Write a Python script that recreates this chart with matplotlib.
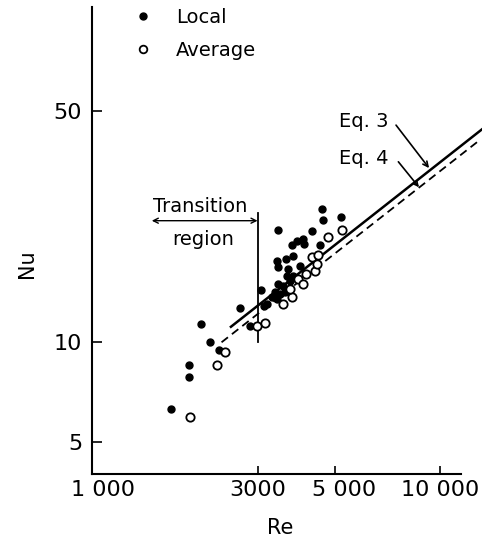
import numpy as np
import matplotlib
matplotlib.use('Agg')
import matplotlib.pyplot as plt
import matplotlib.transforms as mtransforms
from matplotlib.lines import Line2D
from matplotlib.ticker import NullLocator

# local Nusselt numbers (filled dots)
re_local = [1687, 1906, 1906, 2063, 2183, 2322, 2663, 2836, 3059, 3110,
            3423, 3394, 3418, 3874, 4048, 4075, 4279, 4589, 4597, 5194,
            4520, 3749, 3665, 3781, 3610, 3960, 3627, 3707, 3788, 3430,
            3546, 3356, 3469, 3586, 3284, 3394, 3177]
nu_local = [6.27, 8.52, 7.87, 11.35, 10.0, 9.49, 12.72, 11.18, 14.43, 12.85,
            21.77, 17.66, 16.86, 20.3, 20.55, 19.85, 21.62, 25.2, 23.34, 23.89,
            19.61, 19.61, 16.67, 18.29, 17.91, 17.05, 15.91, 15.36, 15.91, 15.01,
            14.83, 14.15, 14.0, 14.15, 13.67, 13.52, 13.05]

# average Nusselt numbers (open circles)
re_avg = [1912, 2282, 2403, 2973, 3142, 3532, 3749, 3707, 3915, 4048,
          4121, 4358, 4423, 4279, 4470, 4757, 5239]
nu_avg = [5.93, 8.55, 9.33, 11.22, 11.43, 13.08, 13.68, 14.53, 15.57, 15.04,
          16.13, 16.47, 17.29, 18.07, 18.41, 20.78, 21.77]

# correlations
re_eq3 = [2507, 13180]
nu_eq3 = [11.14, 43.95]
re_eq4 = [2356, 12990]
nu_eq4 = [10.0, 40.8]

xticks = [1000, 3000, 5000, 10000]
xtick_labels = ['1 000', '3000', '5 000', '10 000']
yticks = [5, 10, 50]
ytick_labels = ['5', '10', '50']

fig = plt.figure(figsize=(4.86, 5.41), dpi=100)
ax = fig.add_axes([0.1893, 0.1238, 0.8025, 0.8632])
ax.set_xscale('log')
ax.set_yscale('log')
ax.set_xlim(1000, 13200)
ax.set_ylim(4.0, 103)

# lines
ax.plot(re_eq3, nu_eq3, color='black', lw=1.8, zorder=2)
ax.plot(re_eq4, nu_eq4, color='black', lw=1.3, dashes=(4.5, 2.8), zorder=2)

# data
ax.plot(re_local, nu_local, 'o', color='black', ms=5, zorder=3)
ax.plot(re_avg, nu_avg, 'o', mfc='white', mec='black', ms=6, mew=1.3, zorder=4)

# transition region
ax.plot([3000, 3000], [10, 24.5], color='black', lw=1.3)
ax.annotate('', xy=(1485, 23.3), xytext=(2990, 23.3),
            arrowprops=dict(arrowstyle='<->', lw=1.0, color='black',
                            shrinkA=0, shrinkB=0, mutation_scale=9))
ax.text(2044, 24.74, 'Transition', ha='center', va='baseline', fontsize=14)
ax.text(2084, 19.61, 'region', ha='center', va='baseline', fontsize=14)

# equation labels
ax.text(6046, 44.76, 'Eq. 3', ha='center', va='baseline', fontsize=14)
ax.text(6046, 34.67, 'Eq. 4', ha='center', va='baseline', fontsize=14)
ax.annotate('', xy=(9299, 33.6), xytext=(7474, 45.3),
            arrowprops=dict(arrowstyle='->', lw=1.2, color='black',
                            shrinkA=0, shrinkB=0, mutation_scale=9))
ax.annotate('', xy=(8700, 29.4), xytext=(7590, 35.1),
            arrowprops=dict(arrowstyle='->', lw=1.2, color='black',
                            shrinkA=0, shrinkB=0, mutation_scale=7))

# axes styling
for s in ['top', 'right']:
    ax.spines[s].set_visible(False)
ax.spines['left'].set_linewidth(1.5)
ax.spines['bottom'].set_linewidth(1.5)
ax.spines['bottom'].set_bounds(1000, 11470)

ax.set_xticks(xticks)
ax.set_xticklabels(xtick_labels)
ax.set_yticks(yticks)
ax.set_yticklabels(ytick_labels)
ax.xaxis.set_minor_locator(NullLocator())
ax.yaxis.set_minor_locator(NullLocator())
ax.tick_params(axis='x', direction='in', length=6, width=1.2, labelsize=16, pad=4)
ax.tick_params(axis='y', direction='in', length=7, width=1.2, labelsize=16, pad=7)

# nudge a couple of x labels like the original
for lab, dx in zip(ax.get_xticklabels(), [11, 0, 9, 0]):
    off = mtransforms.ScaledTranslation(dx / 100, 0, fig.dpi_scale_trans)
    lab.set_transform(lab.get_transform() + off)

ax.set_xlabel('Re', fontsize=15, va='top')
ax.xaxis.set_label_coords(0.483, -0.094)
ax.set_ylabel('Nu', fontsize=15, va='center')
ax.yaxis.set_label_coords(-0.1667, 0.4497)

# legend
handles = [Line2D([], [], ls='none', marker='o', color='black', ms=5),
           Line2D([], [], ls='none', marker='o', mfc='white', mec='black', ms=5.5, mew=1.3)]
ax.legend(handles, ['Local', 'Average'], loc='upper left',
          bbox_to_anchor=(133.3 / 486, 1 - 7.7 / 541), bbox_transform=fig.transFigure,
          frameon=False, handlelength=1.0, handletextpad=1.2, labelspacing=0.75,
          borderpad=0, borderaxespad=0, fontsize=14)

plt.savefig('out.png', dpi=100)
